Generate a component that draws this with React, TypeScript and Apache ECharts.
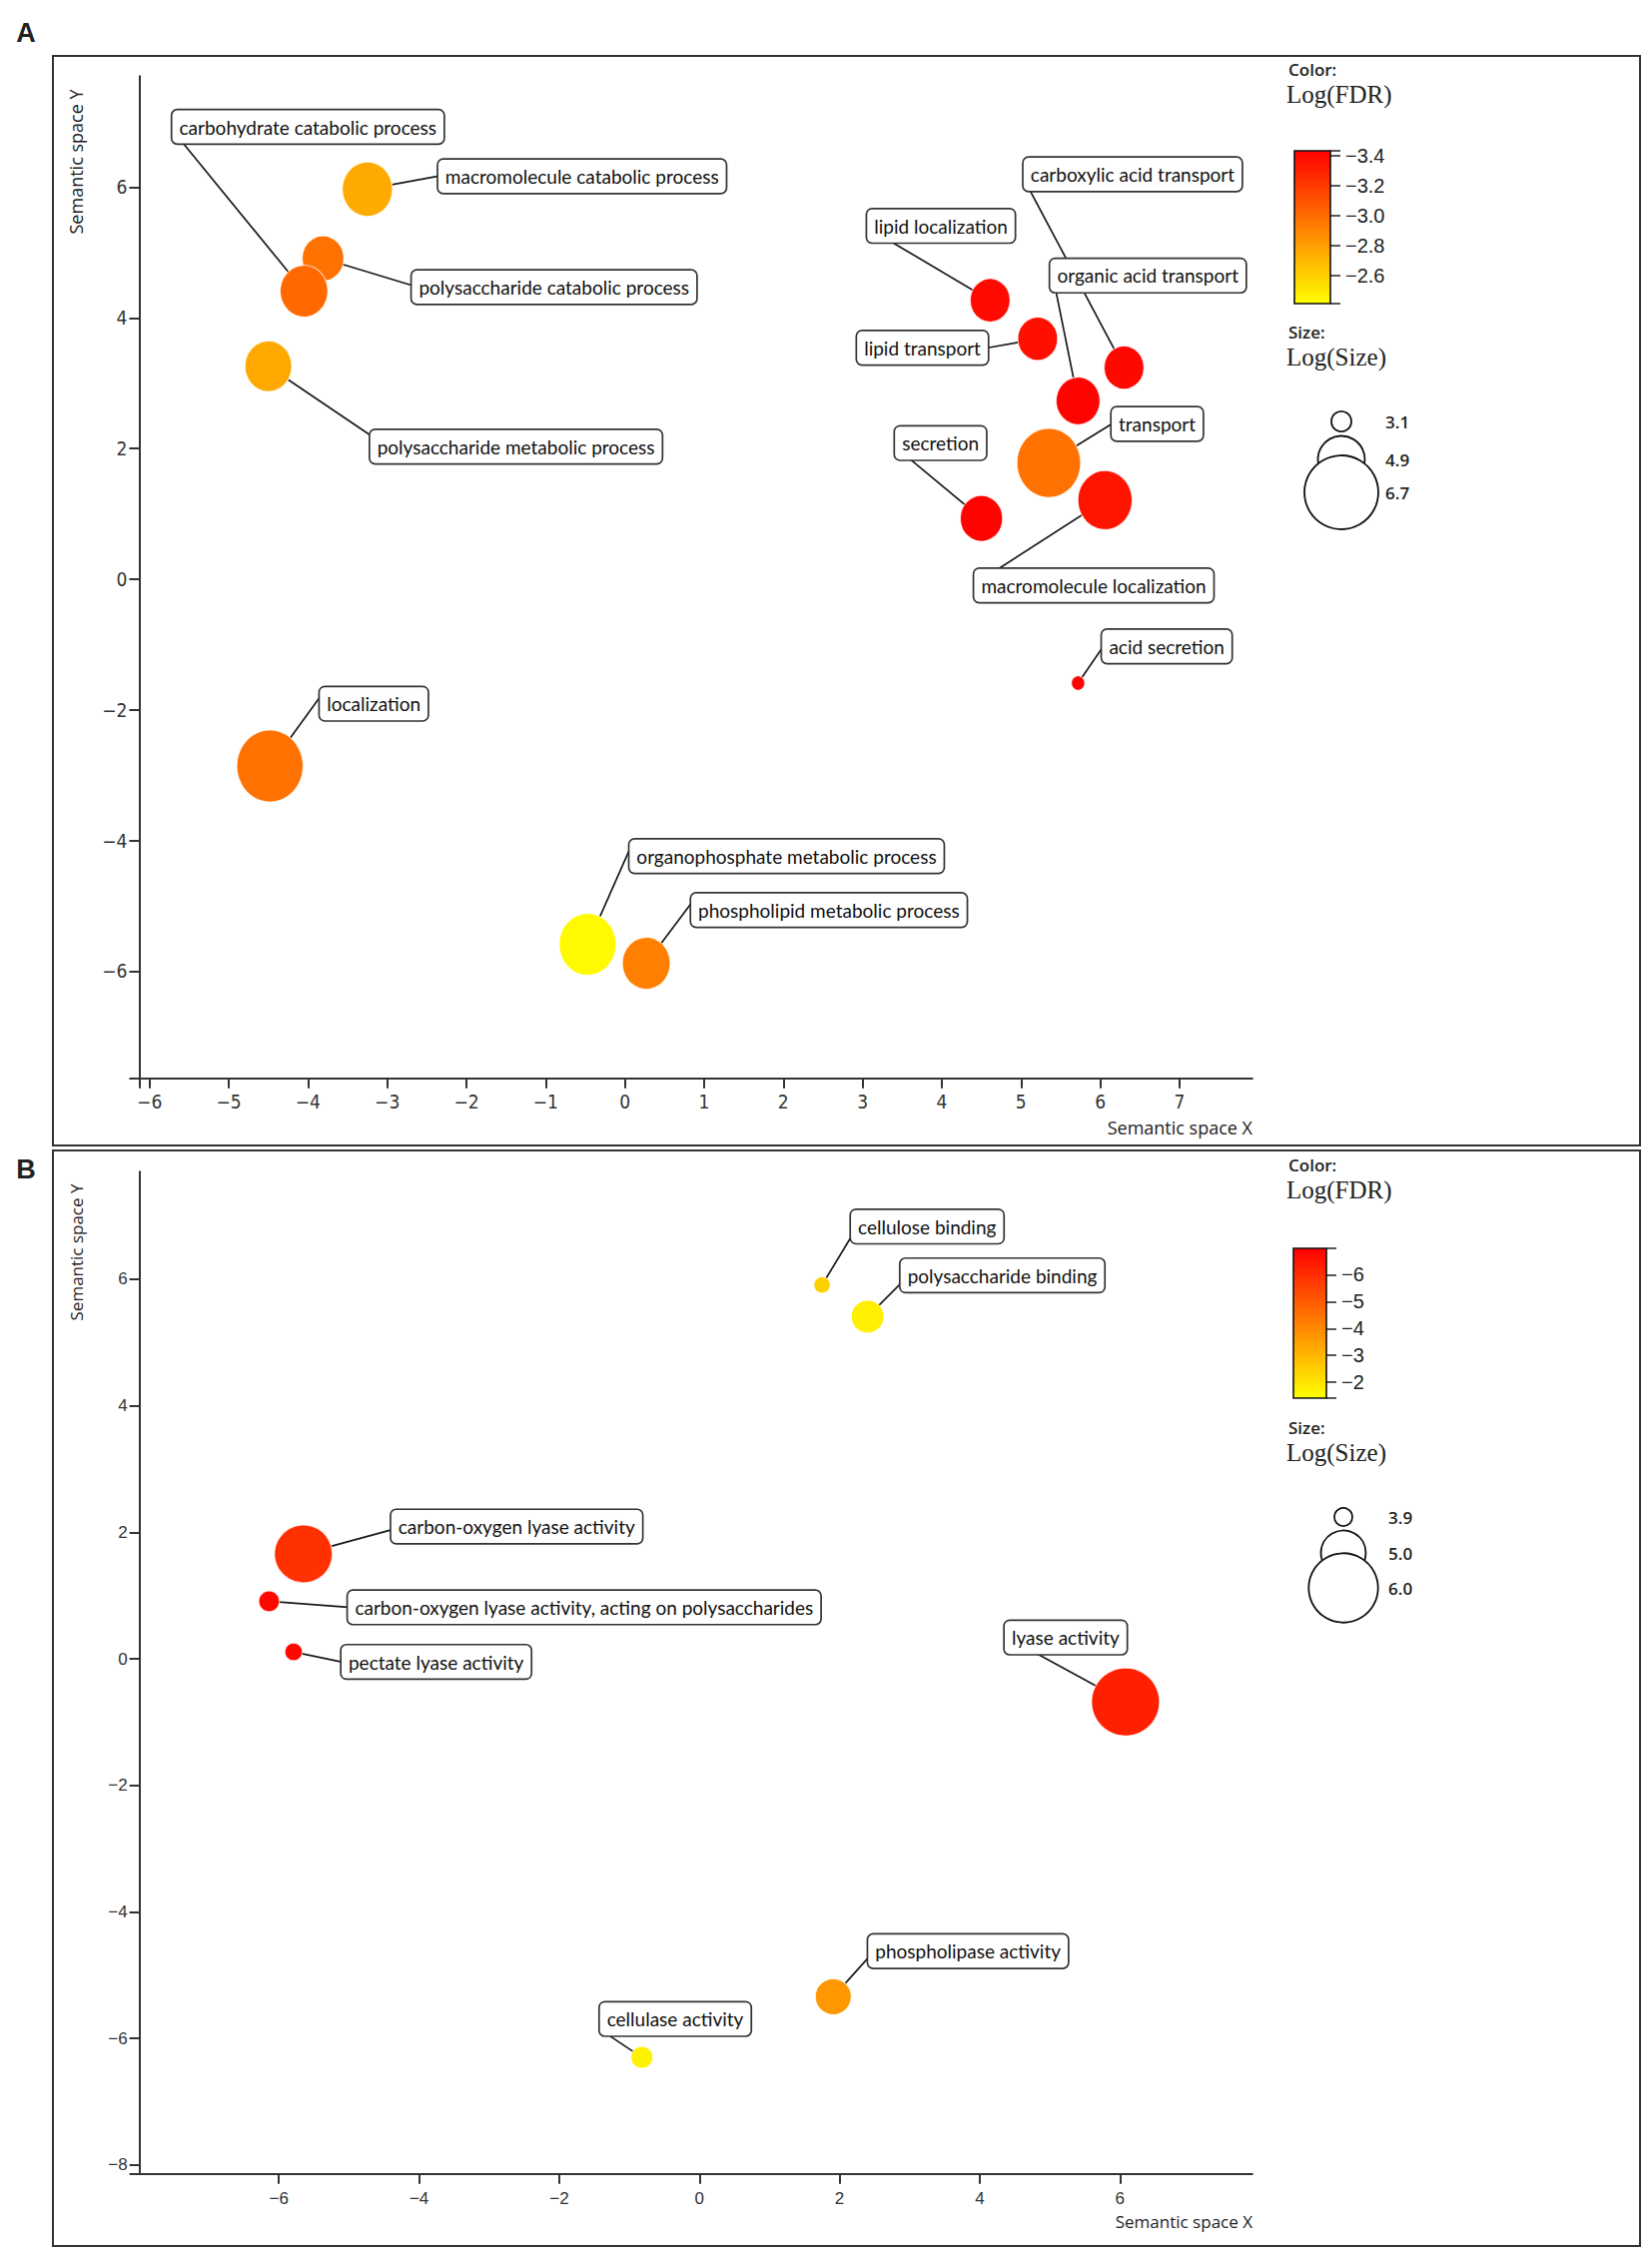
import React, { useEffect, useRef } from 'react';
import * as echarts from 'echarts';

const W = 1654;
const H = 2258;

// ---------------- Panel A : data ----------------
const termsA = [
  'polysaccharide catabolic process',
  'carbohydrate catabolic process',
  'macromolecule catabolic process',
  'polysaccharide metabolic process',
  'localization',
  'organophosphate metabolic process',
  'phospholipid metabolic process',
  'lipid localization',
  'lipid transport',
  'carboxylic acid transport',
  'organic acid transport',
  'transport',
  'macromolecule localization',
  'secretion',
  'acid secretion',
];
const semXA = [-3.81, -4.05, -3.25, -4.5, -4.48, -0.47, 0.27, 4.61, 5.21, 6.3, 5.72, 5.35, 6.06, 4.5, 5.72];
const semYA = [4.91, 4.41, 5.97, 3.26, -2.86, -5.59, -5.88, 4.27, 3.68, 3.24, 2.73, 1.78, 1.21, 0.93, -1.59];
const logFdrA = [-2.98, -3.01, -2.75, -2.76, -2.98, -2.43, -2.92, -3.39, -3.37, -3.4, -3.42, -2.98, -3.35, -3.42, -3.42];
const logSizeA = [4.78, 5.22, 5.4, 5.15, 6.57, 5.9, 5.23, 4.65, 4.65, 4.65, 4.94, 6.38, 5.7, 4.83, 2.73];
const xRangeA = [-6.13, 7.92];
const yRangeA = [-7.64, 7.7];
const colorRangeA = [-3.43, -2.41];
const sizeLegendA = [3.1, 4.9, 6.7];

// ---------------- Panel B : data ----------------
const termsB = [
  'cellulose binding',
  'polysaccharide binding',
  'carbon-oxygen lyase activity',
  'carbon-oxygen lyase activity, acting on polysaccharides',
  'pectate lyase activity',
  'lyase activity',
  'phospholipase activity',
  'cellulase activity',
];
const semXB = [1.75, 2.4, -5.65, -6.14, -5.79, 6.08, 1.91, -0.82];
const semYB = [5.91, 5.41, 1.66, 0.91, 0.11, -0.68, -5.34, -6.3];
const logFdrB = [-2.44, -1.77, -5.9, -6.81, -6.81, -6.28, -3.67, -1.69];
const logSizeB = [3.83, 4.5, 5.53, 4.01, 3.88, 5.94, 4.63, 4.06];
const xRangeB = [-7.99, 7.89];
const yRangeB = [-8.14, 7.7];
const colorRangeB = [-6.98, -1.41];
const sizeLegendB = [3.9, 5.0, 6.0];

const heatColors = ['#FF0000', '#FFFF00'];

// ---------------- layout (px) ----------------
// label anchor offset from bubble centre [dx, dy] and anchor position on the box [ax, ay]
const labelLayoutA: Record<string, number[]> = {
  'carbohydrate catabolic process': [-121, -148, 0.04, 1],
  'macromolecule catabolic process': [71, -13, 0, 0.5],
  'polysaccharide catabolic process': [89, 27, 0, 0.45],
  'polysaccharide metabolic process': [102, 69, 0, 0.15],
  localization: [50, -69, 0, 0.3],
  'organophosphate metabolic process': [42, -95, 0, 0.3],
  'phospholipid metabolic process': [45, -60, 0, 0.3],
  'lipid localization': [-98, -58, 0.17, 1],
  'lipid transport': [-50, 9, 1, 0.5],
  'carboxylic acid transport': [-94, -177, 0.03, 1],
  'organic acid transport': [-22, -109, 0.03, 1],
  transport: [63, -39, 0, 0.5],
  'macromolecule localization': [-107, 69, 0.1, 0],
  secretion: [-71, -59, 0.17, 1],
  'acid secretion': [24, -35, 0, 0.55],
};
const labelLayoutB: Record<string, number[]> = {
  'cellulose binding': [29, -48, 0, 0.82],
  'polysaccharide binding': [33, -33, 0, 0.75],
  'carbon-oxygen lyase activity': [88, -24, 0, 0.6],
  'carbon-oxygen lyase activity, acting on polysaccharides': [79, 6, 0, 0.5],
  'pectate lyase activity': [48, 10, 0, 0.5],
  'lyase activity': [-88, -48, 0.27, 1],
  'phospholipase activity': [35, -39, 0, 0.7],
  'cellulase activity': [-33, -22, 0.06, 1],
};

const radiusA = (s: number) => 10 + 7.5 * (s - 3.1);
const radiusB = (s: number) => 9 + 12.25 * (s - 3.9);
const ASPECT_A = 0.92;

const LABEL_FONT = "19px Lato, 'Open Sans', sans-serif";
const PAD_X = 7;
const PAD_Y = 5;
const LINE_H = 23;
const TICK_A = "'Liberation Sans Narrow', 'DejaVu Sans Condensed', 'Roboto Condensed', sans-serif";
const TICK_B = "'Liberation Sans', Arial, sans-serif";
const NAME_FONT = "'Open Sans', sans-serif";
const SERIF = "'Liberation Serif', 'Times New Roman', serif";

let measureCtx: CanvasRenderingContext2D | null = null;
function textWidth(s: string): number {
  if (!measureCtx) measureCtx = document.createElement('canvas').getContext('2d');
  if (!measureCtx) return s.length * 9.5;
  measureCtx.font = LABEL_FONT;
  return measureCtx.measureText(s).width;
}

const minus = (v: number, digits: number) => {
  const s = Math.abs(v).toFixed(digits);
  return v < -1e-9 ? '\u2212' + s : s;
};
const fmtStep = (step: number, digits: number) => (v: number) => {
  const k = v / step;
  if (Math.abs(k - Math.round(k)) > 1e-6) return '';
  return minus(Math.round(k) * step, digits);
};

function valueAxis(gridIndex: number, range: number[], step: number, font: string, fontSize: number, margin: number, showMin = true) {
  return {
    type: 'value',
    gridIndex,
    min: range[0],
    max: range[1],
    minInterval: step,
    maxInterval: step,
    axisLine: { show: true, onZero: false, lineStyle: { color: '#333', width: 2 } },
    axisTick: { show: true, inside: false, length: 10, lineStyle: { color: '#333', width: 2 } },
    splitLine: { show: false },
    axisLabel: { color: '#333', fontFamily: font, fontSize, margin, formatter: fmtStep(step, 0), showMinLabel: showMin, showMaxLabel: false },
  };
}

function colorbarAxis(gridIndex: number, range: number[], step: number, digits: number) {
  return {
    type: 'value',
    gridIndex,
    position: 'right',
    inverse: true,
    min: range[0],
    max: range[1],
    minInterval: step,
    maxInterval: step,
    axisLine: { show: false, onZero: false },
    axisTick: { show: true, length: 10, lineStyle: { color: '#222', width: 1.5 } },
    splitLine: { show: false },
    axisLabel: { color: '#222', fontFamily: TICK_B, fontSize: 20, margin: 15, formatter: fmtStep(step, digits) },
  };
}

function hiddenAxis(gridIndex: number) {
  return { type: 'value', gridIndex, min: 0, max: 1, show: false };
}

function bubbleSeries(axis: number, terms: string[], xs: number[], ys: number[], fdr: number[], size: number[], rf: (s: number) => number, aspect: number) {
  return {
    type: 'scatter',
    xAxisIndex: axis,
    yAxisIndex: axis,
    silent: true,
    z: 3,
    symbol: 'circle',
    symbolSize: (v: number[]) => {
      const d = 2 * rf(v[3]);
      return [d * aspect, d];
    },
    itemStyle: { opacity: 1, borderColor: 'rgba(255,255,255,0.75)', borderWidth: 1 },
    emphasis: { disabled: true },
    data: terms.map((t, i) => ({ name: t, value: [xs[i], ys[i], fdr[i], size[i]] })),
  };
}

function labelSeries(axis: number, terms: string[], xs: number[], ys: number[], layout: Record<string, number[]>, part: 'line' | 'box') {
  return {
    type: 'custom',
    xAxisIndex: axis,
    yAxisIndex: axis,
    silent: true,
    z: part === 'line' ? 1 : 5,
    data: terms.map((t, i) => [xs[i], ys[i], i]),
    renderItem: (_p: any, api: any) => {
      const i = api.value(2);
      const term = terms[i];
      const [dx, dy, ax, ay] = layout[term];
      const c = api.coord([api.value(0), api.value(1)]);
      const px = c[0] + dx;
      const py = c[1] + dy;
      if (part === 'line') {
        return { type: 'line', shape: { x1: c[0], y1: c[1], x2: px, y2: py }, style: { stroke: '#1a1a1a', lineWidth: 1.7 } };
      }
      const w = textWidth(term) + 2 * PAD_X;
      const h = LINE_H + 2 * PAD_Y;
      return {
        type: 'text',
        x: px - ax * w,
        y: py - ay * h,
        style: {
          text: term,
          font: LABEL_FONT,
          fill: '#111',
          textAlign: 'left',
          textVerticalAlign: 'top',
          align: 'left',
          verticalAlign: 'top',
          lineHeight: LINE_H,
          backgroundColor: '#fff',
          borderColor: '#333',
          borderWidth: 1.7,
          borderRadius: 5,
          padding: [PAD_Y, PAD_X],
        },
      };
    },
  };
}

function colorbarSeries(axis: number, range: number[]) {
  return {
    type: 'custom',
    xAxisIndex: axis,
    yAxisIndex: axis,
    silent: true,
    z: 2,
    data: [[0, range[0], 1, range[1]]],
    renderItem: (_p: any, api: any) => {
      const a = api.coord([0, api.value(1)]);
      const b = api.coord([1, api.value(3)]);
      return {
        type: 'rect',
        shape: { x: Math.min(a[0], b[0]), y: Math.min(a[1], b[1]), width: Math.abs(b[0] - a[0]), height: Math.abs(b[1] - a[1]) },
        style: {
          fill: new echarts.graphic.LinearGradient(0, 0, 0, 1, [
            { offset: 0, color: heatColors[0] },
            { offset: 1, color: heatColors[1] },
          ]),
          stroke: '#111',
          lineWidth: 1.6,
        },
      };
    },
  };
}

function text(x: number, y: number, t: string, font: string, align = 'left', extra: any = {}) {
  return {
    type: 'text',
    x,
    y,
    silent: true,
    ...extra,
    style: { text: t, font, fill: '#222', textAlign: align, textVerticalAlign: 'middle', align, verticalAlign: 'middle' },
  };
}

function sizeLegend(values: number[], rf: (s: number) => number, cx: number, cys: number[], labelX: number) {
  const els: any[] = [];
  values.forEach((v, i) => {
    els.push({ type: 'circle', silent: true, shape: { cx, cy: cys[i], r: rf(v) }, style: { fill: '#fff', stroke: '#111', lineWidth: 1.8 }, z: 10 + i });
  });
  values.forEach((v, i) => {
    els.push({ ...text(labelX, cys[i], v.toFixed(1), "600 17px 'Open Sans', sans-serif"), z: 20 });
  });
  return els;
}

function buildOption() {
  const graphic: any[] = [
    { type: 'rect', silent: true, shape: { x: 53, y: 56, width: 1589, height: 1091 }, style: { fill: 'none', stroke: '#333', lineWidth: 2 } },
    { type: 'rect', silent: true, shape: { x: 53, y: 1152, width: 1589, height: 1097 }, style: { fill: 'none', stroke: '#333', lineWidth: 2 } },
    text(26, 33, 'A', "bold 27px 'Liberation Sans', Arial, sans-serif", 'center'),
    text(26, 1171, 'B', "bold 27px 'Liberation Sans', Arial, sans-serif", 'center'),
    text(76, 162, 'Semantic space Y', '18px ' + NAME_FONT, 'center', { rotation: Math.PI / 2 }),
    text(1254, 1129, 'Semantic space X', '18px ' + NAME_FONT, 'right'),
    text(76, 1254, 'Semantic space Y', '17px ' + NAME_FONT, 'center', { rotation: Math.PI / 2 }),
    text(1254, 2224, 'Semantic space X', '17px ' + NAME_FONT, 'right'),
    // legend titles A
    text(1290, 69, 'Color:', "600 17px 'Open Sans', sans-serif"),
    text(1288, 94, 'Log(FDR)', '25px ' + SERIF),
    text(1290, 332, 'Size:', "600 17px 'Open Sans', sans-serif"),
    text(1288, 357, 'Log(Size)', '25px ' + SERIF),
    // legend titles B
    text(1290, 1166, 'Color:', "600 17px 'Open Sans', sans-serif"),
    text(1288, 1191, 'Log(FDR)', '25px ' + SERIF),
    text(1290, 1429, 'Size:', "600 17px 'Open Sans', sans-serif"),
    text(1288, 1454, 'Log(Size)', '25px ' + SERIF),
    ...sizeLegend(sizeLegendA, radiusA, 1343, [422, 460, 493], 1387),
    ...sizeLegend(sizeLegendB, radiusB, 1345, [1519, 1555, 1590], 1390),
  ];

  return {
    animation: false,
    backgroundColor: '#ffffff',
    grid: [
      { left: 139.4, top: 76.3, width: 1114.5, height: 1003.4 },
      { left: 139.6, top: 1173.3, width: 1114.3, height: 1003.4 },
      { left: 1296, top: 151, width: 36, height: 153 },
      { left: 1295, top: 1250, width: 33, height: 150 },
    ],
    xAxis: [
      valueAxis(0, xRangeA, 1, TICK_A, 19, 14),
      valueAxis(1, xRangeB, 2, TICK_B, 17, 16, false),
      hiddenAxis(2),
      hiddenAxis(3),
    ],
    yAxis: [
      valueAxis(0, yRangeA, 2, TICK_A, 19, 12),
      valueAxis(1, yRangeB, 2, TICK_B, 17, 12),
      colorbarAxis(2, colorRangeA, 0.2, 1),
      colorbarAxis(3, colorRangeB, 1, 0),
    ],
    visualMap: [
      { type: 'continuous', show: false, seriesIndex: 1, dimension: 2, min: colorRangeA[0], max: colorRangeA[1], inRange: { color: heatColors } },
      { type: 'continuous', show: false, seriesIndex: 4, dimension: 2, min: colorRangeB[0], max: colorRangeB[1], inRange: { color: heatColors } },
    ],
    series: [
      labelSeries(0, termsA, semXA, semYA, labelLayoutA, 'line'),
      bubbleSeries(0, termsA, semXA, semYA, logFdrA, logSizeA, radiusA, ASPECT_A),
      labelSeries(0, termsA, semXA, semYA, labelLayoutA, 'box'),
      labelSeries(1, termsB, semXB, semYB, labelLayoutB, 'line'),
      bubbleSeries(1, termsB, semXB, semYB, logFdrB, logSizeB, radiusB, 1),
      labelSeries(1, termsB, semXB, semYB, labelLayoutB, 'box'),
      colorbarSeries(2, colorRangeA),
      colorbarSeries(3, colorRangeB),
    ],
    graphic: { elements: graphic },
  };
}

export default function App() {
  const ref = useRef<HTMLDivElement>(null);
  useEffect(() => {
    document.body.style.margin = '0';
    const chart = echarts.init(ref.current as HTMLDivElement, undefined, { renderer: 'svg', width: W, height: H });
    chart.setOption(buildOption() as any);
    return () => chart.dispose();
  }, []);
  return <div ref={ref} style={{ width: W, height: H, background: '#fff' }} />;
}
